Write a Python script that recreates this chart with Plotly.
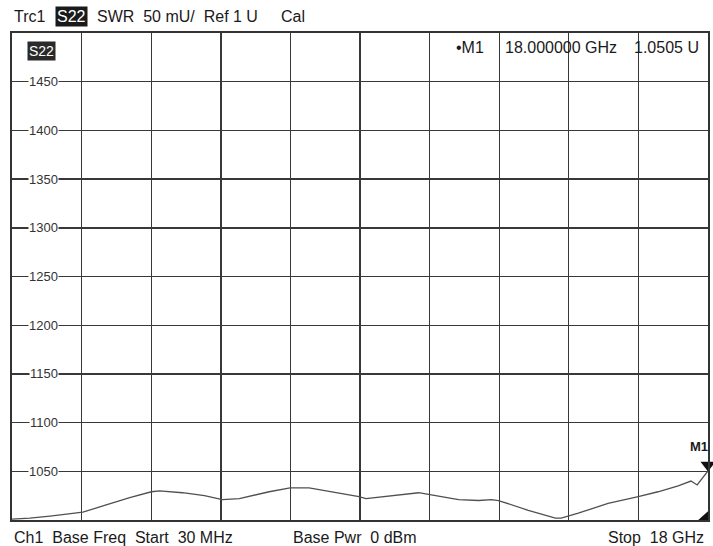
import plotly.graph_objects as go

# Frequency (GHz) and SWR (mU)
freq_ghz = [0.03, 0.49, 1.01, 1.86, 2.42, 3.07, 3.63, 3.84, 4.43, 5.00, 5.46, 5.90,
            6.67, 7.21, 7.70, 8.47, 8.99, 9.17, 10.02, 10.53, 10.82, 11.56, 12.08,
            12.41, 12.59, 13.36, 14.06, 14.21, 14.65, 15.42, 16.20, 16.71, 17.23,
            17.56, 17.72, 18.00]
swr_mu = [1001, 1002, 1004, 1008, 1015, 1023, 1029, 1030, 1028, 1025, 1021, 1022,
          1029, 1033, 1033, 1028, 1024, 1022, 1026, 1028, 1026, 1021, 1020,
          1021, 1020, 1010, 1002, 1002, 1007, 1017, 1024, 1029, 1035,
          1040, 1036, 1050.5]
y_ticks = [1050, 1100, 1150, 1200, 1250, 1300, 1350, 1400, 1450]
marker_freq = [18.0]
marker_val = [1050.5]

F0, F1 = 0.03, 18.0
Y0, Y1 = 1000, 1500
W, H = 713, 546
L, R, T, B = 12, 3, 33, 26
pw, ph = W - L - R, H - T - B

def px(x):
    return (x - L) / pw

def py(y):
    return (H - B - y) / ph

FONT = "Liberation Sans, Arial, sans-serif"
fig = go.Figure()
fig.add_trace(go.Scatter(x=freq_ghz, y=swr_mu, mode="lines",
                         line=dict(color="#505050", width=1.3), hoverinfo="skip"))
fig.add_trace(go.Scatter(x=marker_freq, y=[v + 6 for v in marker_val], mode="markers",
                         marker=dict(symbol="triangle-down", size=13, color="#111111"),
                         cliponaxis=False, hoverinfo="skip"))

ann = []
for v in y_ticks:
    ann.append(dict(x=px(44), y=v, xref="paper", yref="y", text=str(v), showarrow=False,
                    font=dict(family=FONT, size=13, color="#333333"), bgcolor="white",
                    xanchor="center", yanchor="middle", borderpad=0))
# S22 box inside plot
ann.append(dict(x=px(27), y=py(51), xref="paper", yref="paper", text="S22", showarrow=False,
                font=dict(family=FONT, size=14, color="white"), bgcolor="#2a2a2a",
                xanchor="left", yanchor="middle", borderpad=1))

def txt(x, y, s, anchor="left", size=16, color="#1a1a1a", bg=None):
    d = dict(x=px(x), y=py(y), xref="paper", yref="paper", text=s, showarrow=False,
             font=dict(family=FONT, size=size, color=color), xanchor=anchor, yanchor="middle")
    if bg:
        d["bgcolor"] = bg
        d["borderpad"] = 1
    ann.append(d)

txt(12, 17, "Trc1")
txt(55, 17, "S22", color="white", bg="#1a1a1a")
txt(95, 17, "SWR  50 mU/  Ref 1 U")
txt(280, 17, "Cal")
txt(455, 48, "•M1")
txt(504, 48, "18.000000 GHz")
txt(703, 48, "1.0505 U", anchor="right")
txt(712, 446, "<b>M1</b>", anchor="right", size=13)
txt(12, 537, "Ch1  Base Freq  Start  30 MHz")
txt(292, 537, "Base Pwr  0 dBm")
txt(708, 537, "Stop  18 GHz", anchor="right")

fig.update_layout(
    width=W, height=H, margin=dict(l=L, r=R, t=T, b=B),
    paper_bgcolor="white", plot_bgcolor="white", showlegend=False,
    annotations=ann,
    shapes=[dict(type="path", xref="x domain", yref="y domain",
                 path="M 0.986 0 L 1 0 L 1 0.018 Z", fillcolor="#111111", line=dict(width=0))],
    xaxis=dict(range=[F0, F1], tick0=F0, dtick=(F1 - F0) / 10, showgrid=True,
               gridcolor="#383838", gridwidth=1.4, showticklabels=False, ticks="",
               zeroline=False, showline=True, linecolor="#333333", linewidth=2, mirror=True),
    yaxis=dict(range=[Y0, Y1], tick0=Y0, dtick=50, showgrid=True,
               gridcolor="#383838", gridwidth=1.4, showticklabels=False, ticks="",
               zeroline=False, showline=True, linecolor="#333333", linewidth=2, mirror=True),
)
fig.write_html("out.html", config={"displayModeBar": False, "staticPlot": True},
               post_script="document.body.style.margin='0';document.body.style.padding='0';"
                           "document.documentElement.style.overflow='hidden';")
